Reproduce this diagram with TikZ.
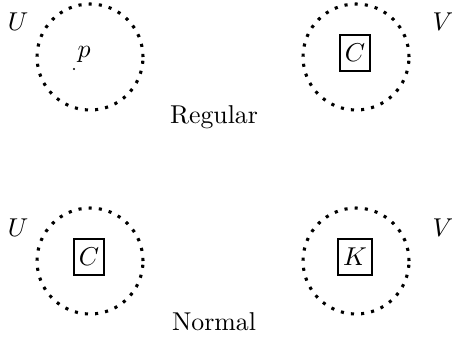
\documentclass[tikz,border=0pt]{standalone}
\begin{document}
\begin{tikzpicture}[x=0.3876pt,y=-0.3876pt,
  region/.style={circle,draw,minimum size=106*0.3876pt,inner sep=0pt,line width=1.2pt,dash pattern=on 1.2pt off 2.75pt},
  setbox/.style={draw,line width=0.9pt,inner sep=2pt,minimum width=30*0.3876pt,minimum height=36*0.3876pt},
  lbl/.style={inner sep=0pt}]
\useasboundingbox (0,0) rectangle (452,339);
\node[region] (c1) at (90,57) {};
\node[region] (c2) at (356,57) {};
\node[region] (c3) at (90,261) {};
\node[region] (c4) at (356,261) {};
\node[lbl] (u1) at (18,22) {$U$};
\node[lbl] (v1) at (443,22) {$V$};
\node[lbl] (u2) at (18,228) {$U$};
\node[lbl] (v2) at (443,228) {$V$};
\node[lbl] (p) at (84,54) {$p$};
\fill (74,69) circle (0.45pt);
\node[setbox] (b1) at (355,53) {$C$};
\node[setbox] (b2) at (89,257) {$C$};
\node[setbox] (b3) at (355,257) {$K$};
\node[lbl] (reg) at (214,117) {Regular};
\node[lbl] (nor) at (214,322) {Normal};
\end{tikzpicture}
\end{document}
